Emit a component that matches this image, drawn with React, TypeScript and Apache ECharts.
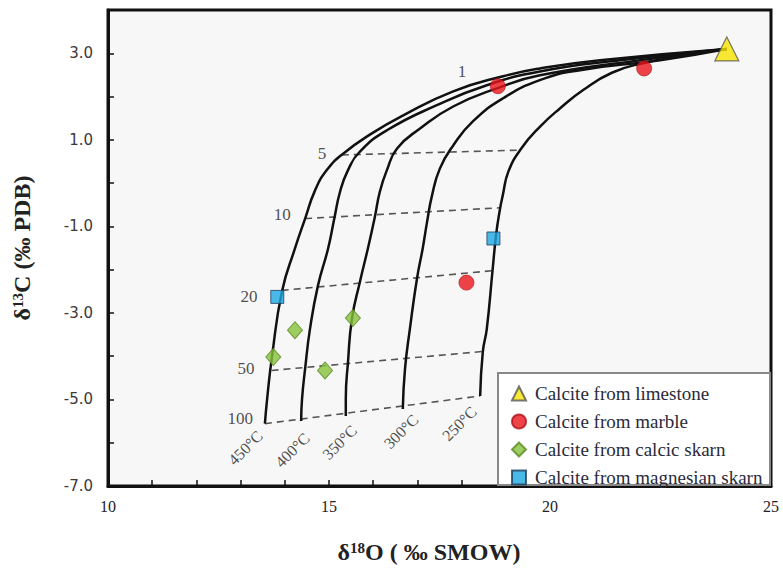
import React, { useEffect, useRef } from "react";
import * as echarts from "echarts";

// Mixing / fractionation model curves (δ18O, δ13C), from limestone towards high water/rock ratios
const curve450: [number, number][] = [
  [24.0, 3.1], [21.13, 2.84], [19.77, 2.65], [18.94, 2.47], [17.81, 2.12], [16.67, 1.56],
  [15.97, 1.15], [15.32, 0.68], [14.95, 0.3], [14.68, -0.18], [14.46, -0.82], [14.23, -1.51],
  [13.94, -2.49], [13.71, -4.01], [13.6, -4.99], [13.55, -5.56],
];
const curve400: [number, number][] = [
  [24.0, 3.1], [21.58, 2.84], [19.77, 2.58], [18.57, 2.26], [17.44, 1.8], [16.31, 1.22],
  [15.7, 0.73], [15.43, 0.3], [15.25, -0.2], [15.12, -0.82], [14.98, -1.51], [14.75, -2.37],
  [14.57, -3.37], [14.46, -4.29], [14.39, -4.99], [14.37, -5.5],
];
const curve350: [number, number][] = [
  [24.0, 3.1], [22.04, 2.84], [19.77, 2.49], [18.8, 2.19], [17.81, 1.77], [17.06, 1.26],
  [16.54, 0.8], [16.31, 0.3], [16.15, -0.2], [16.03, -0.82], [15.88, -1.51], [15.7, -2.28],
  [15.52, -3.13], [15.43, -4.13], [15.38, -4.99], [15.38, -5.38],
];
const curve300: [number, number][] = [
  [24.0, 3.1], [22.49, 2.84], [20.68, 2.61], [19.77, 2.38], [18.94, 1.96], [18.26, 1.43],
  [17.81, 0.87], [17.51, 0.34], [17.33, -0.29], [17.22, -0.89], [17.12, -1.51], [16.99, -2.21],
  [16.83, -3.37], [16.72, -4.29], [16.67, -5.22],
];
const curve250: [number, number][] = [
  [24.0, 3.1], [23.17, 2.98], [22.1, 2.77], [21.4, 2.55], [20.75, 2.15], [20.23, 1.73],
  [19.77, 1.3], [19.35, 0.8], [19.06, 0.27], [18.93, -0.29], [18.86, -0.65], [18.78, -1.2],
  [18.7, -2.02], [18.57, -3.37], [18.48, -3.9], [18.42, -4.92],
];
const curves = [curve450, curve400, curve350, curve300, curve250];

// water/rock ratio isolines (dashed)
const ratio5: [number, number][] = [[15.29, 0.65], [19.25, 0.76]];
const ratio10: [number, number][] = [[14.46, -0.82], [18.87, -0.57]];
const ratio20: [number, number][] = [[13.93, -2.48], [18.74, -2.02]];
const ratio50: [number, number][] = [[13.7, -4.33], [18.49, -3.89]];
const ratio100: [number, number][] = [[13.55, -5.56], [18.42, -4.92]];
const ratioLines = [ratio5, ratio10, ratio20, ratio50, ratio100];

const ratioLabels = ["1", "5", "10", "20", "50", "100"];
const ratioLabelPos: [number, number][] = [
  [18.01, 2.58], [14.84, 0.69], [13.94, -0.73], [13.19, -2.63], [13.12, -4.29], [12.99, -5.45],
];
const tempLabels = ["450°C", "400°C", "350°C", "300°C", "250°C"];
const tempLabelPos: [number, number][] = [
  [13.11, -6.12], [14.17, -6.17], [15.24, -5.99], [16.63, -5.74], [17.95, -5.56],
];

// samples
const limestone: [number, number][] = [[24.0, 3.1]];
const marble: [number, number][] = [[18.82, 2.24], [22.13, 2.65], [18.11, -2.3]];
const calcicSkarn: [number, number][] = [[14.23, -3.4], [15.54, -3.12], [13.74, -4.02], [14.91, -4.33]];
const magnesianSkarn: [number, number][] = [[13.83, -2.63], [18.72, -1.28]];

const seriesNames = [
  "Calcite from limestone",
  "Calcite from marble",
  "Calcite from calcic skarn",
  "Calcite from magnesian skarn",
];

const xTicks = [10, 15, 20, 25];
const yTicks = [-7, -5, -3, -1, 1, 3];

const SERIF = "'Liberation Serif', 'Times New Roman', serif";

export default function App() {
  const ref = useRef<HTMLDivElement>(null);
  useEffect(() => {
    if (!ref.current) return;
    const chart = echarts.init(ref.current, undefined, { renderer: "svg" });
    const series: any[] = [];
    curves.forEach((c, i) => {
      series.push({
        type: "line",
        name: "curve" + i,
        data: c,
        symbol: "none",
        smooth: 0.5,
        silent: true,
        lineStyle: { color: "#111", width: 2.5 },
        z: 2,
      });
    });
    ratioLines.forEach((c, i) => {
      series.push({
        type: "line",
        name: "ratio" + i,
        data: c,
        symbol: "none",
        silent: true,
        lineStyle: { color: "#555", width: 1.6, type: [7, 5] },
        z: 1,
      });
    });
    series.push({
      type: "scatter",
      name: "ratioLabels",
      data: ratioLabels.map((n, i) => ({ name: n, value: ratioLabelPos[i] })),
      symbolSize: 1,
      itemStyle: { color: "transparent" },
      silent: true,
      label: {
        show: true,
        position: "inside",
        formatter: "{b}",
        fontFamily: SERIF,
        fontSize: 17,
        color: "#222",
      },
    });
    series.push({
      type: "scatter",
      name: "tempLabels",
      data: tempLabels.map((n, i) => ({ name: n, value: tempLabelPos[i] })),
      symbolSize: 1,
      itemStyle: { color: "transparent" },
      silent: true,
      label: {
        show: true,
        position: "inside",
        formatter: "{b}",
        rotate: 45,
        fontFamily: SERIF,
        fontSize: 16,
        color: "#222",
      },
    });
    series.push({
      type: "scatter",
      name: seriesNames[0],
      data: limestone,
      symbol: "triangle",
      symbolSize: 24,
      itemStyle: { color: "#f7e400", borderColor: "#555", borderWidth: 1.2 },
      z: 5,
    });
    series.push({
      type: "scatter",
      name: seriesNames[1],
      data: marble,
      symbol: "circle",
      symbolSize: 15,
      itemStyle: { color: "#e8141c", borderColor: "#b01018", borderWidth: 0.8 },
      z: 5,
    });
    series.push({
      type: "scatter",
      name: seriesNames[2],
      data: calcicSkarn,
      symbol: "diamond",
      symbolSize: [15, 17],
      itemStyle: { color: "#86c23a", borderColor: "#5a8a22", borderWidth: 1 },
      z: 5,
    });
    series.push({
      type: "scatter",
      name: seriesNames[3],
      data: magnesianSkarn,
      symbol: "rect",
      symbolSize: 13,
      itemStyle: { color: "#1ea7e1", borderColor: "#1b3d5c", borderWidth: 1 },
      z: 5,
    });

    chart.setOption({
      animation: false,
      backgroundColor: "#ffffff",
      grid: {
        left: 108,
        right: 12,
        top: 10,
        bottom: 88,
        show: true,
        backgroundColor: "#f7f7f7",
        borderColor: "#111",
        borderWidth: 3,
      },
      xAxis: {
        type: "value",
        min: 10,
        max: 25,
        interval: 1,
        axisLine: { show: true, onZero: false, lineStyle: { color: "#111", width: 3 } },
        axisTick: { show: true, inside: true, length: 6, lineStyle: { color: "#111", width: 1.5 } },
        splitLine: { show: false },
        axisLabel: {
          margin: 12,
          fontFamily: SERIF,
          fontSize: 16,
          color: "#222",
          formatter: (v: number) => (xTicks.includes(v) ? String(v) : ""),
        },
      },
      yAxis: {
        type: "value",
        min: -7,
        max: 4,
        interval: 1,
        axisLine: { show: true, onZero: false, lineStyle: { color: "#111", width: 3 } },
        axisTick: { show: true, inside: true, length: 6, lineStyle: { color: "#111", width: 1.5 } },
        splitLine: { show: false },
        axisLabel: {
          margin: 15,
          fontFamily: "'DejaVu Sans', sans-serif",
          fontSize: 15,
          color: "#3a3a3a",
          formatter: (v: number) => (yTicks.includes(v) ? v.toFixed(1) : ""),
        },
        name: "{a|δ}{s|13}{a|C (‰ PDB)}",
        nameLocation: "middle",
        nameGap: 74,
        nameRotate: 90,
        nameTextStyle: {
          rich: {
            a: { fontFamily: SERIF, fontSize: 24, fontWeight: "bold", color: "#222" },
            s: { fontFamily: SERIF, fontSize: 15, fontWeight: "bold", color: "#222", verticalAlign: "top" },
          },
        },
      },
      legend: {
        data: [
          { name: seriesNames[0], icon: "triangle" },
          { name: seriesNames[1], icon: "circle" },
          { name: seriesNames[2], icon: "diamond" },
          { name: seriesNames[3], icon: "rect" },
        ],
        left: 506,
        top: 379,
        orient: "vertical",
        itemGap: 9,
        itemWidth: 14,
        itemHeight: 14,
        selectedMode: false,
        textStyle: { fontFamily: SERIF, fontSize: 19, color: "#2a2a3a", padding: [0, 0, 0, 4] },
        z: 10,
      },
      graphic: [
        {
          type: "rect",
          shape: { x: 498, y: 373, width: 272, height: 112 },
          style: { fill: "#ffffff", stroke: "#888", lineWidth: 2 },
          z: 8,
          silent: true,
        },
        {
          type: "text",
          x: 429,
          y: 552,
          style: {
            text: "{a|δ}{s|18}{a|O ( ‰ SMOW)}",
            align: "center",
            verticalAlign: "middle",
            rich: {
              a: { fontFamily: SERIF, fontSize: 24, fontWeight: "bold", fill: "#222" },
              s: { fontFamily: SERIF, fontSize: 15, fontWeight: "bold", fill: "#222", verticalAlign: "top" },
            },
          },
          silent: true,
        },
      ],
      series,
    });
    return () => chart.dispose();
  }, []);
  return (
    <div
      ref={ref}
      style={{ position: "fixed", left: 0, top: 0, width: 783, height: 574 }}
    />
  );
}
